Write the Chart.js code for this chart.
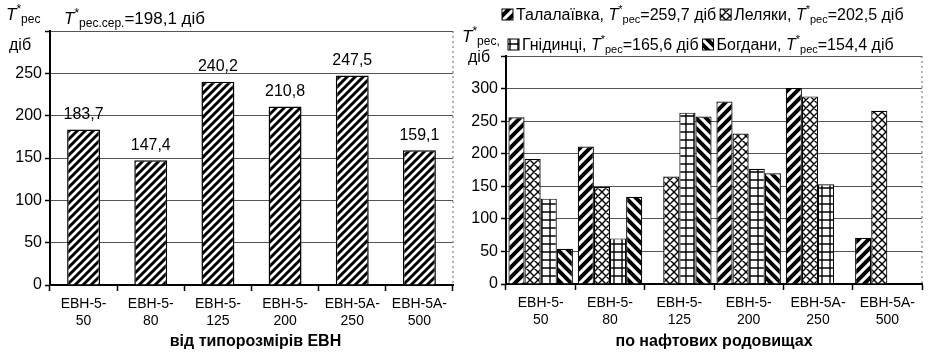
<!DOCTYPE html>
<html>
<head>
<meta charset="utf-8">
<script src="https://cdn.jsdelivr.net/npm/chart.js@4/dist/chart.umd.min.js"></script>
<style>
  html, body { margin: 0; padding: 0; background: #fff; }
  #wrap { position: relative; width: 938px; height: 353px; }
  #leftBox { position: absolute; left: 0; top: 0; width: 458px; height: 353px; }
  #rightBox { position: absolute; left: 458px; top: 0; width: 480px; height: 353px; }
</style>
</head>
<body>
<div id="wrap">
  <div id="leftBox"><canvas id="leftChart" width="458" height="353"></canvas></div>
  <div id="rightBox"><canvas id="rightChart" width="480" height="353"></canvas></div>
</div>
<script>
const FONT = "'Liberation Sans', Arial, sans-serif";

const categories = [['ЕВН-5-', '50'], ['ЕВН-5-', '80'], ['ЕВН-5-', '125'], ['ЕВН-5-', '200'], ['ЕВН-5А-', '250'], ['ЕВН-5А-', '500']];
const avgByType = [183.7, 147.4, 240.2, 210.8, 247.5, 159.1];
const overallAvg = 198.1;

const fieldNames = ['Талалаївка', 'Леляки', 'Гнідинці', 'Богдани'];
const fieldAvg = [259.7, 202.5, 165.6, 154.4];
const talalaivka = [256, 211, null, 280, 301, 71];
const leliaky = [192, 149, 165, 231, 288, 266];
const hnidyntsi = [131, 70, 263, 177, 153, null];
const bohdany = [54, 134, 257, 170, null, null];

function hatch(kind, size, lw) {
  const c = document.createElement('canvas');
  c.width = size; c.height = size;
  const g = c.getContext('2d');
  g.fillStyle = '#fff';
  g.fillRect(0, 0, size, size);
  g.strokeStyle = '#000';
  g.lineWidth = lw;
  g.beginPath();
  if (kind === '/' || kind === 'x') {
    g.moveTo(-size, 2 * size); g.lineTo(2 * size, -size);
    g.moveTo(-size, size); g.lineTo(size, -size);
    g.moveTo(0, 2 * size); g.lineTo(2 * size, 0);
  }
  if (kind === '\\' || kind === 'x') {
    g.moveTo(-size, -size); g.lineTo(2 * size, 2 * size);
    g.moveTo(-size, 0); g.lineTo(size, 2 * size);
    g.moveTo(0, -size); g.lineTo(2 * size, size);
  }
  if (kind === '+') {
    g.moveTo(size / 2, 0); g.lineTo(size / 2, size);
    g.moveTo(0, size / 2); g.lineTo(size, size / 2);
  }
  g.stroke();
  return g.createPattern(c, 'repeat');
}

// text with italic T, superscript star and subscript parts
function rich(ctx, x, y, parts, size) {
  ctx.save();
  ctx.textBaseline = 'alphabetic';
  ctx.textAlign = 'left';
  ctx.fillStyle = '#000';
  for (const p of parts) {
    let font = size + 'px ' + FONT, dy = 0;
    if (p[1] === 'i') font = 'italic ' + size + 'px ' + FONT;
    if (p[1] === 'sub') { font = Math.round(size * 0.7) + 'px ' + FONT; dy = 3; }
    if (p[1] === 'sup') { font = Math.round(size * 0.7) + 'px ' + FONT; dy = -7; }
    ctx.font = font;
    ctx.fillText(p[0], x, y + dy);
    x += ctx.measureText(p[0]).width;
  }
  ctx.restore();
  return x;
}

const fmt = v => String(v).replace('.', ',');

const frame = {
  id: 'frame',
  beforeDatasetsDraw(chart) {
    const { ctx, chartArea } = chart;
    ctx.save();
    ctx.strokeStyle = '#666';
    ctx.lineWidth = 1;
    ctx.setLineDash([2, 3]);
    ctx.beginPath();
    ctx.moveTo(chartArea.right, chartArea.top);
    ctx.lineTo(chartArea.right, chartArea.bottom);
    ctx.stroke();
    ctx.restore();
  }
};

function scales(max, width, height) {
  return {
    x: {
      offset: true,
      afterFit: s => { s.height = height; },
      grid: { offset: true, drawOnChartArea: false, tickLength: 6, tickColor: '#000', tickWidth: 1.5 },
      border: { color: '#000', width: 2 },
      ticks: { color: '#000', font: { family: FONT, size: 14 }, padding: 5, maxRotation: 0, autoSkip: false }
    },
    y: {
      min: 0, max: max,
      afterFit: s => { s.width = width; },
      grid: { color: '#555', borderDash: [6, 3], lineWidth: 1, tickLength: 5, tickColor: '#000', tickWidth: 1.5 },
      border: { color: '#000', width: 2 },
      ticks: { stepSize: 50, color: '#000', font: { family: FONT, size: 16 }, padding: 3,
        callback: v => (v === max ? '' : v) }
    }
  };
}

// left chart
new Chart(document.getElementById('leftChart'), {
  type: 'bar',
  data: {
    labels: categories,
    datasets: [{
      data: avgByType,
      backgroundColor: hatch('/', 8, 3),
      borderColor: '#000',
      borderWidth: 1.5,
      barPercentage: 0.5,
      categoryPercentage: 0.98
    }]
  },
  options: {
    responsive: false,
    animation: false,
    layout: { padding: { top: 31, right: 5, left: 0, bottom: 0 } },
    plugins: { legend: { display: false }, tooltip: { enabled: false } },
    scales: scales(300, 50, 68)
  },
  plugins: [frame, {
    id: 'leftText',
    afterDraw(chart) {
      const { ctx, chartArea } = chart;
      const meta = chart.getDatasetMeta(0);
      ctx.save();
      ctx.font = '16px ' + FONT;
      ctx.fillStyle = '#000';
      ctx.textAlign = 'center';
      ctx.textBaseline = 'bottom';
      meta.data.forEach((bar, i) => ctx.fillText(fmt(avgByType[i]), bar.x, bar.y - 7));
      ctx.font = 'bold 16px ' + FONT;
      ctx.textBaseline = 'alphabetic';
      ctx.fillText('від типорозмірів ЕВН', (chartArea.left + chartArea.right) / 2 + 4, 346);
      ctx.restore();
      rich(ctx, 6, 20, [['T', 'i'], ['*', 'sup'], ['рес', 'sub']], 17);
      rich(ctx, 9, 50, [['діб', 'n']], 16);
      rich(ctx, 64, 24, [['T', 'i'], ['*', 'sup'], ['рес.сер.', 'sub'], ['=' + fmt(overallAvg) + ' діб', 'n']], 17);
    }
  }]
});

// right chart
const fieldData = [talalaivka, leliaky, hnidyntsi, bohdany];
const fieldFills = [hatch('/', 10, 4), hatch('x', 8, 1.4), hatch('+', 8, 1.4), hatch('\\', 10, 4)];

new Chart(document.getElementById('rightChart'), {
  type: 'bar',
  data: {
    labels: categories,
    datasets: fieldNames.map((name, i) => ({
      label: name,
      data: fieldData[i],
      backgroundColor: fieldFills[i],
      borderColor: '#000',
      borderWidth: 1.2,
      barPercentage: 1,
      categoryPercentage: 0.93
    }))
  },
  options: {
    responsive: false,
    animation: false,
    layout: { padding: { top: 56, right: 16, left: 0, bottom: 0 } },
    plugins: { legend: { display: false }, tooltip: { enabled: false } },
    scales: scales(350, 48, 69)
  },
  plugins: [frame, {
    id: 'rightText',
    afterDraw(chart) {
      const { ctx, chartArea } = chart;
      const rows = [[0, 1], [2, 3]];
      const starts = [[44, 20], [50, 50]];
      rows.forEach((row, r) => {
        let x = starts[r][0];
        const y = starts[r][1];
        row.forEach(i => {
          ctx.save();
          ctx.fillStyle = fieldFills[i];
          ctx.fillRect(x, y - 11, 11, 11);
          ctx.strokeStyle = '#000';
          ctx.lineWidth = 1;
          ctx.strokeRect(x, y - 11, 11, 11);
          ctx.restore();
          x += 14;
          x = rich(ctx, x, y, [[fieldNames[i] + ', ', 'n'], ['T', 'i'], ['*', 'sup'], ['рес', 'sub'], ['=' + fmt(fieldAvg[i]) + ' діб', 'n']], 16);
          x += 4;
        });
      });
      rich(ctx, 4, 42, [['T', 'i'], ['*', 'sup'], ['рес,', 'sub']], 17);
      rich(ctx, 10, 62, [['діб', 'n']], 16);
      ctx.save();
      ctx.font = 'bold 16px ' + FONT;
      ctx.fillStyle = '#000';
      ctx.textAlign = 'center';
      ctx.fillText('по нафтових родовищах', (chartArea.left + chartArea.right) / 2, 346);
      ctx.restore();
    }
  }]
});
</script>
</body>
</html>
